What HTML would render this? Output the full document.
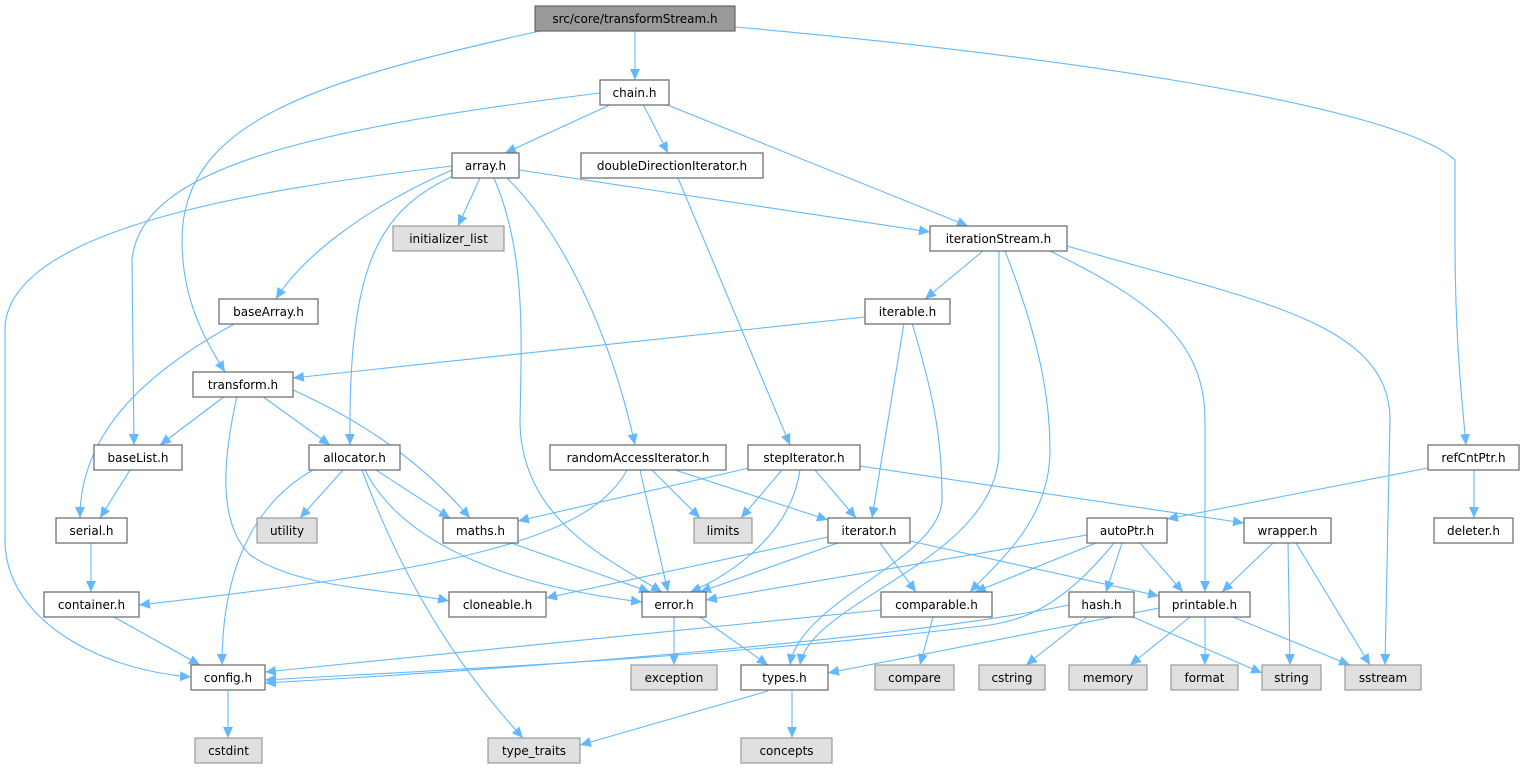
<!DOCTYPE html>
<html><head><meta charset="utf-8"><style>
html,body{margin:0;padding:0;background:#fff;}
svg{display:block;}
text{font-family:"DejaVu Sans","Liberation Sans",sans-serif;font-size:12px;fill:#000;text-anchor:middle;}
.e{fill:none;stroke:#63b8ff;stroke-width:1.1;marker-end:url(#a);}
.n{fill:#fff;stroke:#666;stroke-width:1.2;}
.g{fill:#e0e0e0;stroke:#999;stroke-width:1.2;}
.r{fill:#999;stroke:#666;stroke-width:1.2;}
</style></head><body>
<svg width="1522" height="769" viewBox="0 0 1522 769" xmlns="http://www.w3.org/2000/svg">
<defs><marker id="a" markerUnits="userSpaceOnUse" markerWidth="11" markerHeight="10" viewBox="0 0 11 10" refX="11" refY="5" orient="auto"><path d="M0,0 L11,5 L0,10 z" fill="#63b8ff"/></marker></defs>
<g>
<path class="e" d="M635,31 L635,80"/>
<path class="e" d="M540,31 C320,80 182,120 182,240 C182,300 205,340 225,372"/>
<path class="e" d="M735,27 C1000,50 1390,100 1455,160 L1455,240 C1455,340 1462,400 1466,445"/>
<path class="e" d="M612,104 L505,153"/>
<path class="e" d="M643,104 L668,153"/>
<path class="e" d="M665,104 L968,226"/>
<path class="e" d="M600,93 C300,130 140,170 132,260 L134,445"/>
<path class="e" d="M480,178 L458,226"/>
<path class="e" d="M519,170 L930,232"/>
<path class="e" d="M452,170 C360,210 300,260 276,299"/>
<path class="e" d="M455,175 C380,210 348,260 350,445"/>
<path class="e" d="M494,178 C525,250 522,330 520,420 C520,520 610,560 662,592"/>
<path class="e" d="M507,178 C560,230 610,330 635,445"/>
<path class="e" d="M452,166 C250,190 5,230 5,330 L5,540 C5,620 100,670 191,677"/>
<path class="e" d="M678,178 L790,445"/>
<path class="e" d="M983,251 L925,299"/>
<path class="e" d="M999,251 L999,450 C999,560 810,600 800,665"/>
<path class="e" d="M1005,251 C1040,340 1050,400 1050,450 C1050,520 1000,560 970,592"/>
<path class="e" d="M1050,251 C1150,300 1205,340 1205,420 L1205,592"/>
<path class="e" d="M1067,246 C1250,300 1390,320 1390,420 L1385,665"/>
<path class="e" d="M236,323 C150,370 80,430 80,518"/>
<path class="e" d="M865,317 L293,378"/>
<path class="e" d="M904,323 L872,518"/>
<path class="e" d="M912,323 C935,400 942,440 942,500 C940,560 800,600 790,665"/>
<path class="e" d="M225,396 L160,445"/>
<path class="e" d="M262,396 L330,445"/>
<path class="e" d="M293,390 C360,420 420,460 470,518"/>
<path class="e" d="M237,396 C225,450 215,520 250,555 C300,590 400,590 449,601"/>
<path class="e" d="M343,470 L300,518"/>
<path class="e" d="M376,470 L450,518"/>
<path class="e" d="M365,470 C400,540 500,585 642,602"/>
<path class="e" d="M313,470 C260,500 222,560 222,665"/>
<path class="e" d="M362,470 C410,600 470,680 523,738"/>
<path class="e" d="M627,470 C590,540 450,570 139,605"/>
<path class="e" d="M640,470 L668,592"/>
<path class="e" d="M652,470 L700,518"/>
<path class="e" d="M675,470 L828,520"/>
<path class="e" d="M749,468 L518,521"/>
<path class="e" d="M782,470 L741,518"/>
<path class="e" d="M800,470 C790,540 720,580 690,592"/>
<path class="e" d="M815,470 L856,518"/>
<path class="e" d="M860,466 L1244,523"/>
<path class="e" d="M1428,468 L1167,519"/>
<path class="e" d="M1474,470 L1474,518"/>
<path class="e" d="M130,470 L100,518"/>
<path class="e" d="M91,543 L91,592"/>
<path class="e" d="M114,617 L200,665"/>
<path class="e" d="M511,543 L650,592"/>
<path class="e" d="M828,537 L546,598"/>
<path class="e" d="M838,543 L700,592"/>
<path class="e" d="M880,543 L916,592"/>
<path class="e" d="M910,541 L1159,596"/>
<path class="e" d="M1087,535 L706,600"/>
<path class="e" d="M1096,543 L975,592"/>
<path class="e" d="M1114,543 C1060,610 1020,620 990,625 C700,660 400,672 265,680"/>
<path class="e" d="M1122,543 L1106,592"/>
<path class="e" d="M1140,543 L1183,592"/>
<path class="e" d="M1273,543 L1222,592"/>
<path class="e" d="M1288,543 L1290,665"/>
<path class="e" d="M1296,543 L1370,665"/>
<path class="e" d="M674,617 L674,665"/>
<path class="e" d="M700,617 L768,665"/>
<path class="e" d="M881,610 L265,672"/>
<path class="e" d="M933,617 L920,665"/>
<path class="e" d="M1069,605 C900,640 500,670 265,683"/>
<path class="e" d="M1087,617 L1026,665"/>
<path class="e" d="M1133,617 L1262,673"/>
<path class="e" d="M1159,608 L828,673"/>
<path class="e" d="M1190,617 L1130,665"/>
<path class="e" d="M1205,617 L1205,665"/>
<path class="e" d="M1233,617 L1350,665"/>
<path class="e" d="M228,691 L228,738"/>
<path class="e" d="M768,691 L580,745"/>
<path class="e" d="M792,691 L792,738"/>
</g>
<g>
<rect class="r" x="535" y="6" width="200" height="25"/><text x="635" y="23">src/core/transformStream.h</text>
<rect class="n" x="600" y="80" width="69" height="25"/><text x="634.5" y="97">chain.h</text>
<rect class="n" x="452" y="153" width="67" height="25"/><text x="485.5" y="170">array.h</text>
<rect class="n" x="581" y="153" width="182" height="25"/><text x="672" y="170">doubleDirectionIterator.h</text>
<rect class="g" x="393" y="226" width="111" height="25"/><text x="448.5" y="243">initializer_list</text>
<rect class="n" x="930" y="226" width="137" height="25"/><text x="998.5" y="243">iterationStream.h</text>
<rect class="n" x="219" y="299" width="99" height="25"/><text x="268.5" y="316">baseArray.h</text>
<rect class="n" x="865" y="299" width="85" height="25"/><text x="907.5" y="316">iterable.h</text>
<rect class="n" x="193" y="372" width="100" height="25"/><text x="243" y="389">transform.h</text>
<rect class="n" x="94" y="445" width="88" height="25"/><text x="138" y="462">baseList.h</text>
<rect class="n" x="309" y="445" width="91" height="25"/><text x="354.5" y="462">allocator.h</text>
<rect class="n" x="550" y="445" width="176" height="25"/><text x="638" y="462">randomAccessIterator.h</text>
<rect class="n" x="748" y="445" width="112" height="25"/><text x="804" y="462">stepIterator.h</text>
<rect class="n" x="1428" y="445" width="91" height="25"/><text x="1473.5" y="462">refCntPtr.h</text>
<rect class="n" x="56" y="518" width="71" height="25"/><text x="91.5" y="535">serial.h</text>
<rect class="g" x="257" y="518" width="60" height="25"/><text x="287" y="535">utility</text>
<rect class="n" x="443" y="518" width="75" height="25"/><text x="480.5" y="535">maths.h</text>
<rect class="g" x="694" y="518" width="58" height="25"/><text x="723" y="535">limits</text>
<rect class="n" x="828" y="518" width="82" height="25"/><text x="869" y="535">iterator.h</text>
<rect class="n" x="1087" y="518" width="80" height="25"/><text x="1127" y="535">autoPtr.h</text>
<rect class="n" x="1244" y="518" width="87" height="25"/><text x="1287.5" y="535">wrapper.h</text>
<rect class="n" x="1434" y="518" width="79" height="25"/><text x="1473.5" y="535">deleter.h</text>
<rect class="n" x="44" y="592" width="95" height="25"/><text x="91.5" y="609">container.h</text>
<rect class="n" x="449" y="592" width="97" height="25"/><text x="497.5" y="609">cloneable.h</text>
<rect class="n" x="642" y="592" width="64" height="25"/><text x="674" y="609">error.h</text>
<rect class="n" x="881" y="592" width="111" height="25"/><text x="936.5" y="609">comparable.h</text>
<rect class="n" x="1069" y="592" width="65" height="25"/><text x="1101.5" y="609">hash.h</text>
<rect class="n" x="1159" y="592" width="91" height="25"/><text x="1204.5" y="609">printable.h</text>
<rect class="n" x="191" y="665" width="74" height="25"/><text x="228" y="682">config.h</text>
<rect class="g" x="631" y="665" width="86" height="25"/><text x="674" y="682">exception</text>
<rect class="n" x="741" y="665" width="87" height="25"/><text x="784.5" y="682">types.h</text>
<rect class="g" x="875" y="665" width="79" height="25"/><text x="914.5" y="682">compare</text>
<rect class="g" x="979" y="665" width="66" height="25"/><text x="1012" y="682">cstring</text>
<rect class="g" x="1069" y="665" width="78" height="25"/><text x="1108" y="682">memory</text>
<rect class="g" x="1171" y="665" width="67" height="25"/><text x="1204.5" y="682">format</text>
<rect class="g" x="1262" y="665" width="59" height="25"/><text x="1291.5" y="682">string</text>
<rect class="g" x="1345" y="665" width="76" height="25"/><text x="1383" y="682">sstream</text>
<rect class="g" x="195" y="738" width="67" height="25"/><text x="228.5" y="755">cstdint</text>
<rect class="g" x="488" y="738" width="92" height="25"/><text x="534" y="755">type_traits</text>
<rect class="g" x="741" y="738" width="91" height="25"/><text x="786.5" y="755">concepts</text>
</g>
</svg>
</body></html>
